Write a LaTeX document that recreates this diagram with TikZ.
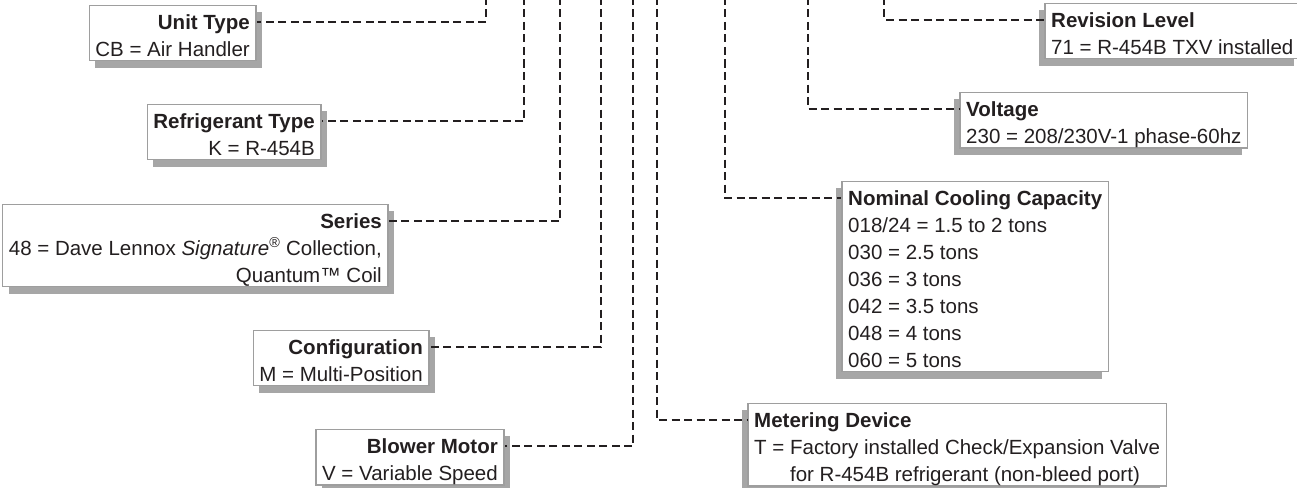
\documentclass[tikz,border=0pt]{standalone}
\usepackage{fontspec}
\setmainfont{Liberation Sans}
\usepackage{tikz}
\usetikzlibrary{positioning, fit, backgrounds, shadows}
\definecolor{keyInk}{RGB}{35,31,32}
\definecolor{keyFrame}{RGB}{158,158,158}
\newcommand{\lastdp}{\rule[-4pt]{0pt}{4pt}}

\begin{document}
\begin{tikzpicture}[x=1pt, y=-1pt,
    ttl/.style={font=\fontsize{20.5pt}{27pt}\selectfont\bfseries, text=keyInk, inner sep=0pt, text height=24pt, text depth=9pt},
    valL/.style={font=\fontsize{20.5pt}{27pt}\selectfont, text=keyInk, inner sep=0pt, align=right, anchor=base east},
    valR/.style={font=\fontsize{20.5pt}{27pt}\selectfont, text=keyInk, inner sep=0pt, align=left, anchor=base west},
    card/.style={draw=keyFrame, line width=1.2pt, fill=white, inner xsep=6pt, inner ysep=0pt},
    cardL/.style={card, drop shadow={shadow xshift=6pt, shadow yshift=-7pt, fill=black, opacity=.35}},
    cardR/.style={card, drop shadow={shadow xshift=-6pt, shadow yshift=-7pt, fill=black, opacity=.35}},
    leader/.style={keyInk, line width=2.6pt, dash pattern=on 8pt off 4.5pt}
  ]
    \useasboundingbox (0,0) rectangle (1297,487);

    % left column (value base = last line)
    \node[ttl, anchor=east] (unitT) at (250,22) {Unit Type};
    \node[below=27pt of unitT.base east, valL] (unitV) {CB = Air Handler\lastdp};
    \node[ttl, anchor=east] (refT) at (315,121) {Refrigerant Type};
    \node[below=27pt of refT.base east, valL] (refV) {K = R-454B\lastdp};
    \node[ttl, anchor=east] (serT) at (382,221) {Series};
    \node[below=54pt of serT.base east, valL] (serV) {48 = Dave Lennox \textit{Signature}\textsuperscript{®} Collection,\\ Quantum™ Coil\lastdp};
    \node[ttl, anchor=east] (confT) at (423,347) {Configuration};
    \node[below=27pt of confT.base east, valL] (confV) {M = Multi-Position\lastdp};
    \node[ttl, anchor=east] (blowT) at (498,446) {Blower Motor};
    \node[below=27pt of blowT.base east, valL] (blowV) {V = Variable Speed\lastdp};

    % right column
    \node[ttl, anchor=west] (revT) at (1051,20) {Revision Level};
    \node[below=27pt of revT.base west, valR] (revV) {71 = R-454B TXV installed\lastdp};
    \node[ttl, anchor=west] (voltT) at (966,109) {Voltage};
    \node[below=27pt of voltT.base west, valR] (voltV) {230 = 208/230V-1 phase-60hz\lastdp};
    \node[ttl, anchor=west] (capT) at (848,198) {Nominal Cooling Capacity};
    \node[below=162pt of capT.base west, valR] (capV) {018/24 = 1.5 to 2 tons\\ 030 = 2.5 tons\\ 036 = 3 tons\\ 042 = 3.5 tons\\ 048 = 4 tons\\ 060 = 5 tons\lastdp};
    \node[ttl, anchor=west] (metT) at (754,420) {Metering Device};
    \node[below=54pt of metT.base west, valR] (metV) {T = Factory installed Check/Expansion Valve\\ \phantom{T = }for R-454B refrigerant (non-bleed port)\lastdp};

    \begin{scope}[on background layer]
      \node[cardL, fit=(unitT)(unitV)] (unit) {};
      \node[cardL, fit=(refT)(refV)] (ref) {};
      \node[cardL, fit=(serT)(serV)] (ser) {};
      \node[cardL, fit=(confT)(confV)] (conf) {};
      \node[cardL, fit=(blowT)(blowV)] (blow) {};
      \node[cardR, fit=(revT)(revV)] (rev) {};
      \node[cardR, fit=(voltT)(voltV)] (volt) {};
      \node[cardR, fit=(capT)(capV)] (cap) {};
      \node[cardR, fit=(metT)(metV)] (met) {};
    \end{scope}

    \coordinate (unitTop) at (486,-3);
    \coordinate (refTop) at (524,-3);
    \coordinate (serTop) at (560,-3);
    \coordinate (confTop) at (601,-3);
    \coordinate (blowTop) at (633,-3);
    \coordinate (metTop) at (657,-3);
    \coordinate (capTop) at (725,-3);
    \coordinate (voltTop) at (808,-3);
    \coordinate (revTop) at (884,-3);

    \draw[leader] (unitTop) |- (unitT.east -| unit.east);
    \draw[leader] (refTop) |- (refT.east -| ref.east);
    \draw[leader] (serTop) |- (serT.east -| ser.east);
    \draw[leader] (confTop) |- (confT.east -| conf.east);
    \draw[leader] (blowTop) |- (blowT.east -| blow.east);
    \draw[leader] (metTop) |- (metT.west -| met.west);
    \draw[leader] (capTop) |- (capT.west -| cap.west);
    \draw[leader] (voltTop) |- (voltT.west -| volt.west);
    \draw[leader] (revTop) |- (revT.west -| rev.west);
  \end{tikzpicture}
\end{document}
